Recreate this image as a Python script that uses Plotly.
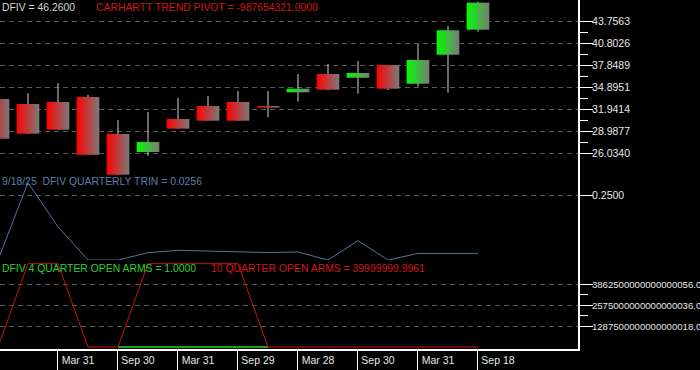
import plotly.graph_objects as go
from datetime import datetime

# ---------------- data ----------------
dates = ["2021-09-30", "2021-12-31", "2022-03-31", "2022-06-30", "2022-09-30",
         "2022-12-30", "2023-03-31", "2023-06-30", "2023-09-29", "2023-12-29",
         "2024-03-28", "2024-06-28", "2024-09-30", "2024-12-31", "2025-03-31",
         "2025-06-30", "2025-09-18"]
opens  = [33.32, 32.65, 32.92, 33.59, 28.63, 26.21, 30.64, 32.38, 32.92, 32.38,
          34.22, 36.68, 36.18, 37.89, 35.38, 39.27, 42.63]
highs  = [34.09, 34.09, 35.47, 33.90, 30.50, 31.58, 33.46, 33.73, 34.40, 34.40,
          36.68, 38.02, 38.43, 37.92, 40.71, 43.13, 46.39]
lows   = [27.95, 28.62, 29.15, 25.80, 23.12, 25.71, 29.30, 30.38, 30.38, 30.87,
          32.96, 34.52, 34.04, 34.53, 34.98, 34.17, 42.36]
closes = [27.99, 28.67, 29.20, 25.85, 23.16, 27.55, 29.34, 30.41, 30.41, 32.16,
          34.71, 34.57, 36.82, 34.71, 38.56, 42.55, 46.26]

trin = [0.0, 0.301, 0.129, 0.0, 0.0, 0.0284, 0.0377, 0.035, 0.031, 0.029,
        0.031, 0.0, 0.0751, 0.0, 0.0257, 0.0257, 0.0256]

arms10 = [0.0, 5.15e18, 5.15e18, 0.0, 0.0, 5.15e18, 5.15e18, 5.15e18, 5.15e18,
          0.0, 0.0, 0.0, 0.0, 0.0, 0.0, 0.0, 39999999.9961]
arms4 = [None, None, None, None, 1.0, 1.0, 1.0, 1.0, 1.0, 1.0,
         None, None, None, None, None, None, None]

price_ticks = [26.0340, 28.9877, 31.9414, 34.8951, 37.8489, 40.8026, 43.7563]
trin_ticks = [0.25]
trin_ticktext = ["0.2500"]
arms_ticks = [1287500000000000018.0, 2575000000000000036.0, 3862500000000000056.0]
arms_ticktext = ["1287500000000000018.0", "2575000000000000036.0", "3862500000000000056.0"]

# ---------------- figure ----------------
W, H = 700, 370
ML, MR, MT, MB = 0, 122, 0, 21
PW, PH = W - ML - MR, H - MT - MB

xs = list(range(len(dates)))
hw = 0.378
FONT = "Arial, Liberation Sans, sans-serif"
TICKCOL = "#e8e8e8"
GRIDCOL = "#585858"

fig = go.Figure()

# wicks
wx, wy = [], []
for i in xs:
    wx += [i, i, None]
    wy += [lows[i], highs[i], None]
fig.add_trace(go.Scatter(x=wx, y=wy, mode="lines", line=dict(color="#cfcfcf", width=1),
                         hoverinfo="skip", showlegend=False))

# bodies with horizontal gradient
for i in xs:
    lo, hi = min(opens[i], closes[i]), max(opens[i], closes[i])
    up = closes[i] >= opens[i]
    c0 = "#00ff00" if up else "#ff0000"
    fig.add_trace(go.Scatter(
        x=[i - hw, i + hw, i + hw, i - hw, i - hw],
        y=[lo, lo, hi, hi, lo],
        mode="lines", line=dict(width=0), fill="toself",
        fillgradient=dict(type="horizontal", colorscale=[[0, c0], [1, "#7a7a7a"]]),
        hoverinfo="skip", showlegend=False))

# TRIN
fig.add_trace(go.Scatter(x=xs, y=trin, yaxis="y2", mode="lines",
                         line=dict(color="#52749e", width=1), showlegend=False))
# ARMS
fig.add_trace(go.Scatter(x=xs, y=arms4, yaxis="y3", mode="lines",
                         line=dict(color="#22dd22", width=1.5), showlegend=False))
fig.add_trace(go.Scatter(x=xs, y=arms10, yaxis="y3", mode="lines",
                         line=dict(color="#d01010", width=1), showlegend=False))


def frac(ypx):
    return (PH - ypx) / PH


# axes
px_per_unit = 22 / (price_ticks[1] - price_ticks[0])
price_top = price_ticks[-1] + 21.3 / px_per_unit
price_bot = price_ticks[-1] - (178 - 21.3) / px_per_unit

trin_ppu = (260 - 195.7) / 0.25
trin_top = (260 - 178) / trin_ppu

arms_ppu = 20.83 / arms_ticks[0]
arms_bot = -(PH - 347) / arms_ppu
arms_top = (347 - 260) / arms_ppu

tick_idx = list(range(2, len(dates), 2))
tick_txt = [datetime.strptime(dates[i], "%Y-%m-%d").strftime("%b %d") for i in tick_idx]


def yax(size):
    return dict(side="right", anchor="x", showline=True, linecolor="white", linewidth=2,
                ticks="outside", ticklen=13, tickcolor="white", tickwidth=1,
                tickfont=dict(family=FONT, size=size, color=TICKCOL),
                gridcolor=GRIDCOL, griddash="5px,4px", gridwidth=1, zeroline=False,
                ticklabelstandoff=-3)


fig.update_layout(
    width=W, height=H,
    margin=dict(l=ML, r=MR, t=MT, b=MB, pad=0),
    paper_bgcolor="black", plot_bgcolor="black",
    showlegend=False,
    xaxis=dict(range=[0.067, 0.067 + PW / 30.0], anchor="y3", showline=True,
               linecolor="white", linewidth=2, showgrid=False, zeroline=False,
               tickvals=tick_idx, ticktext=tick_txt, ticks="outside", ticklen=22,
               tickcolor="white", tickwidth=1,
               tickfont=dict(family=FONT, size=10.5, color=TICKCOL),
               ticklabelstandoff=-22, ticklabelshift=20),
    yaxis=dict(domain=[frac(178), 1], range=[price_bot, price_top],
               tickvals=price_ticks, ticktext=[f"{v:.4f}" for v in price_ticks],
               minor=dict(tickvals=[(a + b) / 2 for a, b in zip(price_ticks[:-1], price_ticks[1:])],
                          ticklen=8, tickcolor="white", showgrid=False, ticks="outside"),
               **yax(10.5)),
    yaxis2=dict(domain=[frac(260), frac(178)], range=[0, trin_top],
                tickvals=trin_ticks, ticktext=trin_ticktext, **yax(10.5)),
    yaxis3=dict(domain=[0, frac(260)], range=[arms_bot, arms_top],
                tickvals=arms_ticks, ticktext=arms_ticktext,
                minor=dict(tickvals=[(a + b) / 2 for a, b in zip(arms_ticks[:-1], arms_ticks[1:])],
                           ticklen=8, tickcolor="white", showgrid=False, ticks="outside"),
                **yax(9.6)),
)


def label(text, xpx, ypx, color):
    fig.add_annotation(text=text, xref="paper", yref="paper", x=xpx / PW, y=frac(ypx),
                       xanchor="left", yanchor="middle", showarrow=False,
                       font=dict(family=FONT, size=10.4, color=color))


last_green = [v for v in arms4 if v is not None][-1]
label(f"DFIV = {closes[-1]:.4f}", 0, 7.5, "#d6d6d6")
label("CARHARTT TREND PIVOT = -987654321.0000", 94, 7.5, "#d01818")
label(f"9/18/25  DFIV QUARTERLY TRIN = {trin[-1]:.4f}", 0, 181, "#5d7fa9")
label(f"DFIV 4 QUARTER OPEN ARMS = {last_green:.4f}", 0, 268.5, "#2ad42a")
label(f"10 QUARTER OPEN ARMS = {arms10[-1]:.4f}", 209, 268.5, "#d01818")

fig.write_html("out.html", config={"displayModeBar": False},
               post_script="document.body.style.margin='0';")
